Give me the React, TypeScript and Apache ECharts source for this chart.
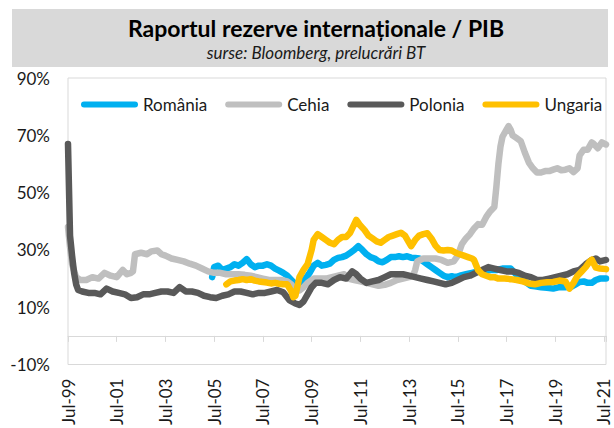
import React, { useEffect, useRef } from "react";
import * as echarts from "echarts";

// months since Jul-1999 (0 = Jul-99, 264 = Jul-21) and ratio reserves / GDP (%)
const poloniaMonths = [0, 1, 2, 3, 4, 5, 7, 10, 13, 16, 19, 22, 25, 28, 31, 34, 37, 40, 43, 46, 49, 52, 55, 58, 61, 64, 67, 70, 73, 76, 79, 82, 85, 88, 91, 94, 97, 100, 103, 106, 109, 112, 114, 116, 118, 120, 122, 125, 128, 131, 134, 137, 140, 142, 144, 147, 150, 153, 156, 159, 162, 165, 168, 171, 174, 177, 180, 183, 186, 189, 192, 195, 198, 201, 204, 207, 210, 213, 216, 219, 222, 225, 228, 231, 234, 237, 240, 243, 246, 249, 252, 255, 258, 260, 262, 265];
const poloniaValues = [67, 35, 28, 22, 18, 16, 15.5, 15, 15, 14.5, 16.5, 15.5, 15, 14.5, 13.2, 13.5, 14.5, 14.5, 15, 15.5, 15.5, 15, 17, 15.5, 15.5, 15, 14, 13.5, 13.2, 14, 14.5, 15.5, 15.5, 15, 14.5, 15, 15, 15.5, 16, 15.2, 12.5, 11.3, 10.8, 12, 14.5, 17, 18.5, 18.5, 18, 19.5, 20.5, 20, 22.5, 21.5, 20, 18.5, 19, 19.5, 20.5, 21.5, 21.5, 21.5, 21, 20.5, 20, 19.5, 19, 18.5, 18, 18.5, 19.5, 20.5, 21, 22, 23, 24, 23.5, 23, 22.5, 22.5, 22, 21, 20.5, 19.5, 19.5, 20, 20.5, 21, 21.5, 22.5, 23, 25, 26.5, 27, 26, 26.5];

const cehiaMonths = [0, 1, 2, 4, 6, 9, 12, 15, 18, 21, 24, 27, 29, 31, 32, 33, 36, 39, 41, 44, 46, 48, 51, 54, 57, 60, 63, 66, 69, 72, 75, 78, 81, 84, 87, 90, 93, 96, 99, 102, 105, 108, 110, 112, 114, 116, 118, 121, 124, 127, 130, 133, 136, 138, 141, 144, 147, 150, 153, 156, 159, 162, 165, 168, 170, 171, 172, 175, 178, 181, 184, 187, 190, 192, 194, 196, 198, 200, 202, 204, 206, 208, 210, 211, 212, 213, 214, 216, 217, 218, 219, 221, 223, 225, 227, 229, 231, 233, 235, 237, 239, 241, 243, 245, 247, 249, 251, 252, 254, 256, 258, 259, 261, 263, 265];
const cehiaValues = [38, 31, 25, 20.5, 19.5, 19.5, 20.5, 20, 22, 21, 20.5, 23, 21.5, 22, 22.5, 28.5, 29, 28.5, 29.5, 29.8, 28.5, 28, 27, 26.5, 26, 25.2, 24.5, 23.5, 22.5, 22, 22, 21.5, 21.5, 21.5, 21.3, 21, 20.5, 20, 19.5, 19.5, 19.5, 19, 18, 16, 15.8, 17, 18.5, 20, 20, 20, 20.5, 21, 21.5, 20, 19.5, 19, 18.5, 18, 17.5, 17.8, 18.5, 19.5, 20, 20.5, 21, 23, 26, 27, 27, 27, 26.5, 25.5, 26, 28, 32, 34, 35.5, 37.5, 39, 38.8, 41.5, 43.5, 45, 52, 60, 66, 69.5, 72, 73.2, 72, 70, 69, 68, 64, 60.5, 58.5, 57, 57, 57.5, 57.5, 58, 58.5, 57.8, 58, 58.5, 57.2, 58.5, 63, 65, 65, 67.5, 67, 65.5, 67.5, 66.8];

const romaniaMonths = [71, 72, 74, 76, 78, 80, 82, 84, 86, 88, 90, 92, 94, 96, 98, 100, 102, 104, 106, 108, 110, 112, 113, 115, 117, 119, 121, 123, 125, 127, 129, 131, 133, 135, 137, 139, 141, 143, 145, 147, 149, 151, 153, 155, 157, 159, 161, 163, 165, 167, 169, 171, 173, 175, 177, 179, 181, 183, 185, 187, 189, 191, 193, 196, 199, 202, 205, 208, 211, 214, 216, 218, 220, 222, 224, 226, 228, 230, 233, 236, 239, 242, 245, 248, 250, 252, 254, 256, 258, 260, 262, 265];
const romaniaValues = [20.5, 24, 24.5, 23, 23.5, 24, 25, 24.5, 25.5, 26.8, 25, 24, 24.5, 24.5, 25, 24.5, 23.5, 22.8, 22, 21, 19.5, 18, 17.3, 18.5, 20, 22, 24.5, 25.5, 24.5, 24.8, 25.2, 26.5, 27.2, 27.5, 28, 29, 30, 31.3, 30, 28.5, 27.5, 27, 26, 25.7, 26.5, 27.5, 27.5, 27.8, 27.5, 27.8, 27.3, 27.2, 27, 26, 25, 24, 23, 22, 21, 20.5, 20.8, 20.5, 21, 21.5, 22, 22.5, 22.5, 23, 23, 23.5, 23.5, 23.5, 22, 20.5, 19.5, 18.5, 17.5, 17.3, 17, 16.8, 16.5, 17, 17, 17.2, 18, 18.8, 19, 18.5, 18.5, 19.5, 20, 20];

const ungariaMonths = [78, 80, 82, 84, 86, 88, 90, 92, 94, 96, 98, 100, 102, 104, 106, 108, 110, 111, 112, 114, 116, 118, 120, 121, 123, 125, 127, 129, 131, 133, 135, 137, 139, 141, 142, 144, 146, 148, 150, 152, 154, 156, 158, 160, 162, 164, 166, 168, 169, 171, 173, 175, 177, 179, 181, 183, 185, 187, 189, 191, 193, 195, 197, 199, 200, 202, 204, 206, 208, 210, 212, 215, 218, 221, 224, 227, 230, 233, 236, 239, 242, 245, 247, 249, 251, 253, 255, 257, 258, 260, 262, 265];
const ungariaValues = [18, 19, 19.3, 19.5, 19.8, 19.5, 19.8, 19.3, 19, 18.8, 18.6, 18.3, 18.5, 18.2, 18, 18, 15.5, 13.5, 14, 20.5, 23, 25, 30, 33.5, 35.5, 34.5, 33.5, 32.5, 32, 33.5, 34.5, 34.5, 36, 39, 40.5, 38.5, 37, 35, 34, 33, 32.5, 33.5, 34.5, 35, 35.5, 36, 35, 32.5, 31.3, 33.5, 35, 35.5, 35.8, 34, 31.5, 30, 29.8, 30, 29.8, 29, 28.5, 28, 27.5, 27, 26.5, 23, 21.5, 21, 20.5, 20.5, 20, 20, 19.8, 19.5, 19, 18.3, 18, 18.5, 18.7, 18.8, 19.3, 19, 16.5, 18.5, 21, 22.5, 24, 26, 26.6, 23.8, 23.5, 23.3];

const seriesNames = ["România", "Cehia", "Polonia", "Ungaria"];
const seriesColors = ["#00b0f0", "#bfbfbf", "#595959", "#ffc000"];

const titleText = "Raportul rezerve internaționale / PIB";
const subtitleText = "surse: Bloomberg, prelucrări BT";

const FONT = "Lato, 'Open Sans', sans-serif";

function pairs(xs: number[], ys: number[]) {
  return xs.map((x, i) => [x, ys[i]]);
}

function monthLabel(m: number) {
  if (m % 24 !== 0) return "";
  const yy = (99 + m / 12) % 100;
  return "Jul-" + String(yy).padStart(2, "0");
}

export default function App() {
  const ref = useRef<HTMLDivElement>(null);
  useEffect(() => {
    if (!ref.current) return;
    const chart = echarts.init(ref.current, null, { renderer: "svg" });
    const data = [
      pairs(romaniaMonths, romaniaValues),
      pairs(cehiaMonths, cehiaValues),
      pairs(poloniaMonths, poloniaValues),
      pairs(ungariaMonths, ungariaValues),
    ];
    chart.setOption({
      animation: false,
      backgroundColor: "#ffffff",
      graphic: [
        {
          type: "rect",
          z: -10,
          shape: { x: 12, y: 9, width: 596, height: 58 },
          style: { fill: "#d9d9d9" },
        },
      ],
      title: {
        text: titleText,
        subtext: subtitleText,
        left: 311,
        top: 11,
        textAlign: "center",
        itemGap: 5,
        textStyle: { fontFamily: FONT, fontSize: 23, fontWeight: "bold", color: "#000" },
        subtextStyle: { fontFamily: FONT, fontSize: 17, fontStyle: "italic", color: "#1a1a1a" },
      },
      legend: {
        data: seriesNames,
        left: 76,
        top: 91,
        itemWidth: 57,
        itemHeight: 6,
        itemGap: 18,
        icon: "path://M3,0H54A3,3,0,0,1,54,6H3A3,3,0,0,1,3,0Z",
        textStyle: { fontFamily: FONT, fontSize: 17, color: "#1a1a1a" },
      },
      grid: {
        left: 68,
        right: 8,
        top: 78,
        bottom: 27,
        show: true,
        borderColor: "#d9d9d9",
        borderWidth: 1,
        backgroundColor: "transparent",
      },
      xAxis: {
        type: "value",
        min: 0,
        max: 265,
        interval: 24,
        splitLine: { show: false },
        axisLine: { show: true, onZero: true, lineStyle: { color: "#d9d9d9", width: 1 } },
        axisTick: { show: true, length: 6, lineStyle: { color: "#d9d9d9" } },
        axisLabel: {
          rotate: 90,
          margin: 14,
          formatter: (v: number) => monthLabel(v),
          fontFamily: FONT,
          fontSize: 17,
          color: "#1a1a1a",
        },
      },
      yAxis: {
        type: "value",
        min: -10,
        max: 90,
        interval: 20,
        splitLine: { show: false },
        axisLine: { show: false },
        axisTick: { show: false },
        axisLabel: {
          margin: 18,
          formatter: (v: number) => v + "%",
          fontFamily: FONT,
          fontSize: 17,
          color: "#1a1a1a",
        },
      },
      series: seriesNames.map((name, i) => ({
        name,
        type: "line",
        data: data[i],
        showSymbol: false,
        symbol: "none",
        color: seriesColors[i],
        lineStyle: { width: 6.5, color: seriesColors[i], cap: "round", join: "round" },
        z: 2 + i,
      })),
    });
    return () => chart.dispose();
  }, []);
  return (
    <div
      ref={ref}
      style={{ position: "fixed", left: 0, top: 0, width: 614, height: 428 }}
    />
  );
}
